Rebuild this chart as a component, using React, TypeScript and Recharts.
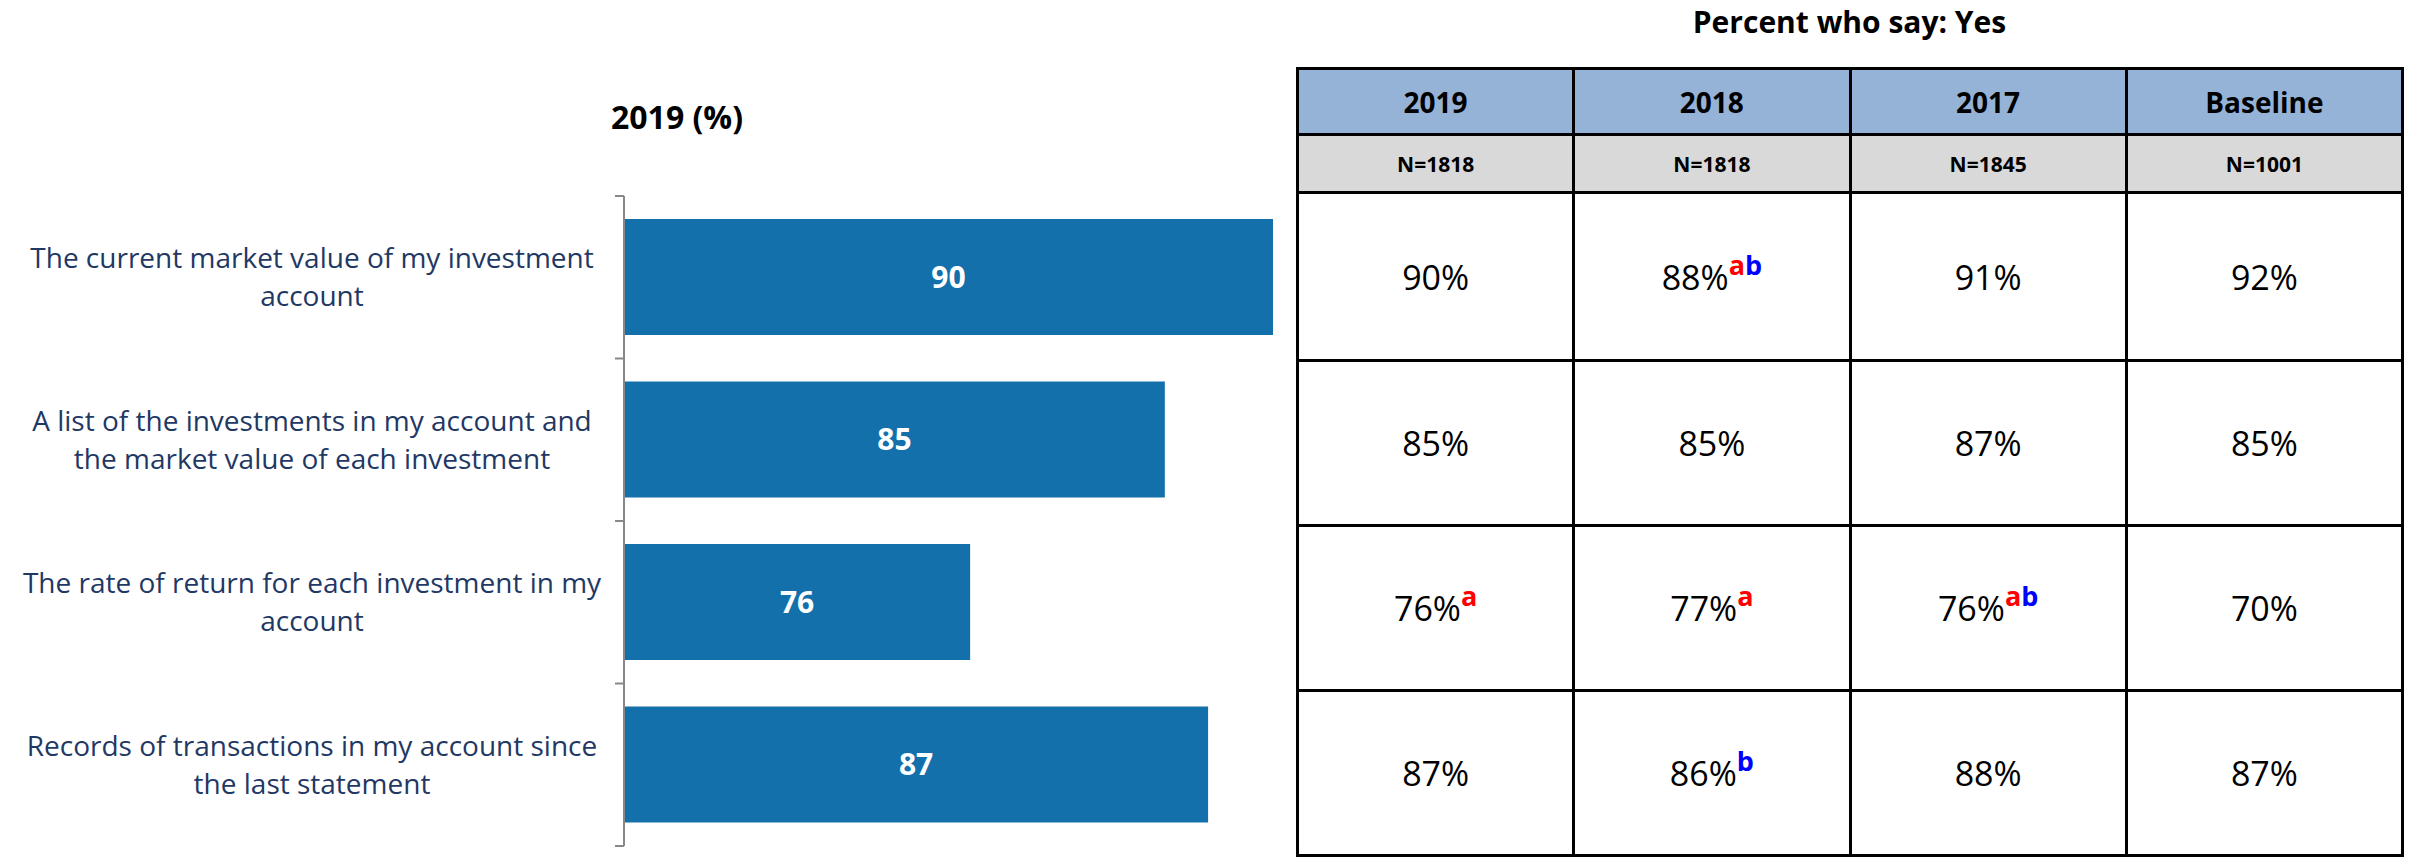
import { Bar, BarChart, LabelList, XAxis, YAxis } from 'recharts';

const categories = [
  'The current market value of my investment account',
  'A list of the investments in my account and the market value of each investment',
  'The rate of return for each investment in my account',
  'Records of transactions in my account since the last statement',
];
const pct2019 = [90, 85, 76, 87];
const pct2018 = [88, 85, 77, 86];
const pct2017 = [91, 87, 76, 88];
const pctBaseline = [92, 85, 70, 87];
const sig2019 = ['', '', 'a', ''];
const sig2018 = ['ab', '', 'a', 'b'];
const sig2017 = ['', '', 'ab', ''];
const sigBaseline = ['', '', '', ''];
const columnLabels = ['2019', '2018', '2017', 'Baseline'];
const sampleSizes = ['N=1818', 'N=1818', 'N=1845', 'N=1001'];

const FONT = '"Open Sans", sans-serif';
const LABEL_COLOR = '#1F3864';
const BAR_COLOR = '#1470AA';

const chartData = categories.map((name, i) => ({ name, value: pct2019[i] }));
const tableColumns = [
  { values: pct2019, sig: sig2019 },
  { values: pct2018, sig: sig2018 },
  { values: pct2017, sig: sig2017 },
  { values: pctBaseline, sig: sigBaseline },
];

function wrapText(text: string, maxChars: number) {
  const lines: string[] = [];
  let cur = '';
  for (const word of text.split(' ')) {
    const next = cur ? cur + ' ' + word : word;
    if (next.length > maxChars && cur) {
      lines.push(cur);
      cur = word;
    } else {
      cur = next;
    }
  }
  if (cur) lines.push(cur);
  return lines;
}

function CategoryTick(props: any) {
  const { x, y, payload, index, visibleTicksCount } = props;
  const lines = wrapText(String(payload.value), 44);
  const lineH = 38;
  const half = payload.offset ?? 0;
  const cx = x - 312;
  const isLast = index === visibleTicksCount - 1;
  return (
    <g>
      <text x={cx} y={y} textAnchor="middle" fill={LABEL_COLOR} fontSize={28} fontFamily={FONT}>
        {lines.map((line, i) => (
          <tspan key={i} x={cx} dy={i === 0 ? -((lines.length - 1) * lineH) / 2 + 10 : lineH}>
            {line}
          </tspan>
        ))}
      </text>
      <line x1={x - 9} x2={x} y1={y - half} y2={y - half} stroke="#888888" strokeWidth={2} />
      {isLast && <line x1={x - 9} x2={x} y1={y + half} y2={y + half} stroke="#888888" strokeWidth={2} />}
    </g>
  );
}

const cellBorder = '3px solid #000';

export default function App() {
  return (
    <div
      style={{
        position: 'absolute',
        left: 0,
        top: 0,
        width: 2409,
        height: 859,
        background: '#fff',
        overflow: 'hidden',
        fontFamily: FONT,
      }}
    >
      <div
        style={{
          position: 'absolute',
          left: 577,
          top: 95,
          width: 200,
          textAlign: 'center',
          fontSize: 32,
          fontWeight: 700,
          color: '#000',
          lineHeight: '44px',
        }}
      >
        2019 (%)
      </div>

      <div style={{ position: 'absolute', left: 0, top: 0 }}>
        <BarChart
          width={1290}
          height={859}
          data={chartData}
          layout="vertical"
          margin={{ top: 196, right: 17, bottom: 13, left: 0 }}
        >
          <XAxis type="number" domain={[60, 90]} allowDataOverflow hide />
          <YAxis
            type="category"
            dataKey="name"
            width={624}
            tickLine={false}
            tickSize={0}
            tickMargin={0}
            axisLine={{ stroke: '#888888', strokeWidth: 2 }}
            tick={<CategoryTick />}
            interval={0}
          />
          <Bar dataKey="value" fill={BAR_COLOR} barSize={116} isAnimationActive={false}>
            <LabelList
              dataKey="value"
              position="center"
              fill="#fff"
              fontSize={30}
              fontWeight={700}
              fontFamily={FONT}
            />
          </Bar>
        </BarChart>
      </div>

      <div
        style={{
          position: 'absolute',
          left: 1297,
          top: 0,
          width: 1105,
          textAlign: 'center',
          fontSize: 30,
          fontWeight: 700,
          color: '#000',
          lineHeight: '44px',
        }}
      >
        Percent who say: Yes
      </div>

      <table
        style={{
          position: 'absolute',
          left: 1296,
          top: 67,
          width: 1108,
          borderCollapse: 'collapse',
          tableLayout: 'fixed',
          fontFamily: FONT,
          color: '#000',
        }}
      >
        <tbody>
          <tr style={{ height: 66 }}>
            {columnLabels.map((c) => (
              <td
                key={c}
                style={{
                  border: cellBorder,
                  background: '#95B3D7',
                  textAlign: 'center',
                  fontSize: 28,
                  fontWeight: 700,
                  padding: 0,
                }}
              >
                {c}
              </td>
            ))}
          </tr>
          <tr style={{ height: 58 }}>
            {sampleSizes.map((n, i) => (
              <td
                key={i}
                style={{
                  border: cellBorder,
                  background: '#D9D9D9',
                  textAlign: 'center',
                  fontSize: 21,
                  fontWeight: 700,
                  padding: 0,
                }}
              >
                {n}
              </td>
            ))}
          </tr>
          {categories.map((_, r) => (
            <tr key={r} style={{ height: r === 0 ? 168 : 165 }}>
              {tableColumns.map((col, c) => (
                <td
                  key={c}
                  style={{
                    border: cellBorder,
                    textAlign: 'center',
                    fontSize: 34,
                    padding: 0,
                  }}
                >
                  {col.values[r]}%
                  {col.sig[r] && (
                    <span style={{ fontSize: 27, fontWeight: 700, position: 'relative', top: -15 }}>
                      {col.sig[r].split('').map((ch, k) => (
                        <span key={k} style={{ color: ch === 'a' ? '#FF0000' : '#0000FF' }}>
                          {ch}
                        </span>
                      ))}
                    </span>
                  )}
                </td>
              ))}
            </tr>
          ))}
        </tbody>
      </table>
    </div>
  );
}
